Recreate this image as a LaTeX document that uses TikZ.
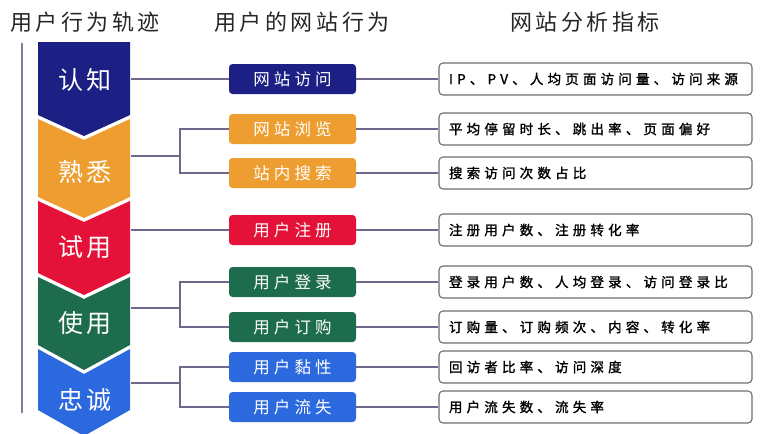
\documentclass[tikz,border=0pt]{standalone}
\usepackage{fontspec}
\newfontfamily\cjk{Noto Sans CJK SC}
\newfontfamily\cjkb[FakeBold=1.5]{Noto Sans CJK SC}
\definecolor{cnavy}{RGB}{28,32,132}
\definecolor{corange}{RGB}{238,158,48}
\definecolor{cred}{RGB}{228,18,56}
\definecolor{cgreen}{RGB}{30,108,78}
\definecolor{cblue}{RGB}{44,104,222}
\definecolor{cline}{RGB}{112,102,140}
\definecolor{cbord}{RGB}{110,110,110}
\tikzset{
  x=1pt, y=-1pt,
  head/.style={font=\cjk\fontsize{22}{24}\selectfont\addfontfeatures{LetterSpace=16}, text=black!85},
  stage/.style={font=\cjk\fontsize{25}{27}\selectfont\addfontfeatures{LetterSpace=12}, text=white},
  mid/.style={rounded corners=3.5pt, minimum width=127, minimum height=30, inner sep=0pt,
    font=\cjk\fontsize{16.5}{18}\selectfont\addfontfeatures{LetterSpace=25}, text=white},
  res/.style={draw=cbord, line width=1.1pt, rounded corners=4pt, fill=white,
    text width=293pt, align=left, inner xsep=10pt, minimum height=32, inner ysep=0pt,
    font=\cjkb\fontsize{13.5}{16}\selectfont\addfontfeatures{LetterSpace=31}, text=black},
  conn/.style={draw=cline, line width=1.6pt},
}
\begin{document}
\begin{tikzpicture}
\useasboundingbox (0,0) rectangle (769,434);
% headers
\node[head] (h1) at (85,22) {用户行为轨迹};
\node[head] (h2) at (302,22) {用户的网站行为};
\node[head] (h3) at (585,22) {网站分析指标};
% timeline
\draw[draw=cline!85, line width=1.8pt] (22,43) -- (22,413);
% chevrons
\fill[cnavy] (38,42) -- (130,42) -- (130,115) -- (84,136) -- (38,115) -- cycle;
\fill[corange] (38,119) -- (84,140) -- (130,119) -- (130,197) -- (84,218) -- (38,197) -- cycle;
\fill[cred] (38,201) -- (84,222) -- (130,201) -- (130,273) -- (84,295) -- (38,273) -- cycle;
\fill[cgreen] (38,277) -- (84,299) -- (130,277) -- (130,345) -- (84,370) -- (38,345) -- cycle;
\fill[cblue] (38,349) -- (84,374) -- (130,349) -- (130,410) -- (84,436) -- (38,410) -- cycle;
\node[stage] (s1) at (85,80) {认知};
\node[stage] (s2) at (85,172) {熟悉};
\node[stage] (s3) at (85,247) {试用};
\node[stage] (s4) at (85,323) {使用};
\node[stage] (s5) at (85,400) {忠诚};
\coordinate (e1) at (131,79);
\coordinate (e2) at (131,156);
\coordinate (e3) at (131,230);
\coordinate (e4) at (131,308);
\coordinate (e5) at (131,383);
\coordinate (j2) at (180,156);
\coordinate (j4) at (180,308);
\coordinate (j5) at (180,383);
% middle boxes
\node[mid, fill=cnavy] (m1) at (292.5,79) {网站访问};
\node[mid, fill=corange] (m2) at (292.5,129) {网站浏览};
\node[mid, fill=corange] (m3) at (292.5,173) {站内搜索};
\node[mid, fill=cred] (m4) at (292.5,230) {用户注册};
\node[mid, fill=cgreen] (m5) at (292.5,282) {用户登录};
\node[mid, fill=cgreen] (m6) at (292.5,327) {用户订购};
\node[mid, fill=cblue] (m7) at (292.5,367) {用户黏性};
\node[mid, fill=cblue] (m8) at (292.5,407) {用户流失};
% result boxes
\node[res] (r1) at (595.5,79) {IP、PV、人均页面访问量、访问来源};
\node[res] (r2) at (595.5,129) {平均停留时长、跳出率、页面偏好};
\node[res] (r3) at (595.5,173) {搜索访问次数占比};
\node[res] (r4) at (595.5,230) {注册用户数、注册转化率};
\node[res] (r5) at (595.5,282) {登录用户数、人均登录、访问登录比};
\node[res] (r6) at (595.5,327) {订购量、订购频次、内容、转化率};
\node[res] (r7) at (595.5,367) {回访者比率、访问深度};
\node[res] (r8) at (595.5,407) {用户流失数、流失率};
% connectors stage -> middle
\draw[conn] (e1) -- (m1.west);
\draw[conn] (e2) -- (j2);
\draw[conn] (m2.west) -| (j2) |- (m3.west);
\draw[conn] (e3) -- (m4.west);
\draw[conn] (e4) -- (j4);
\draw[conn] (m5.west) -| (j4) |- (m6.west);
\draw[conn] (e5) -- (j5);
\draw[conn] (m7.west) -| (j5) |- (m8.west);
% connectors middle -> result
\foreach \i in {1,...,8} {\draw[conn] (m\i.east) -- (r\i.west);}
\end{tikzpicture}
\end{document}
